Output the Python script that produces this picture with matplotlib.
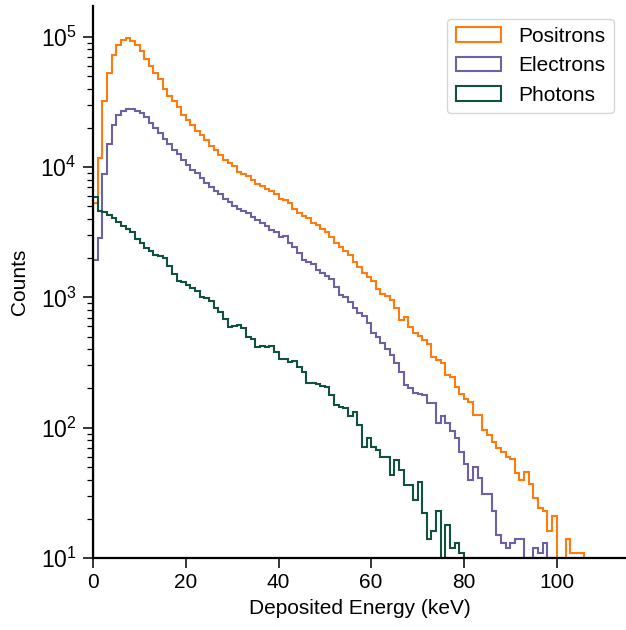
import numpy as np
import matplotlib
matplotlib.use("Agg")
import matplotlib.pyplot as plt

plt.rcParams['font.family'] = ['Liberation Sans', 'DejaVu Sans']
plt.rcParams['mathtext.fontset'] = 'custom'
plt.rcParams['mathtext.rm'] = 'Liberation Sans'
plt.rcParams['mathtext.it'] = 'Liberation Sans:italic'
plt.rcParams['font.size'] = 15

# 1 keV bins, counts per bin
edges = np.arange(0, 108)

positrons = [
    5300, 11700, 32000, 53000, 72000, 87000, 95000, 98000, 93000, 86000,
    78000, 68000, 60000, 53000, 47000, 40000, 35000, 32000, 29000, 25000,
    23000, 21000, 19000, 17600, 16000, 14400, 13400, 12400, 11300, 10800,
    10200, 9200, 8900, 8500, 7900, 7400, 7100, 6800, 6600, 6200,
    5700, 5600, 5300, 4800, 4470, 4200, 4050, 3740, 3600, 3350,
    3190, 2920, 2630, 2450, 2280, 2110, 1880, 1720, 1550, 1430,
    1340, 1150, 1070, 1020, 955, 825, 671, 711, 596, 536,
    506, 471, 439, 350, 331, 312, 254, 246, 206, 181,
    167, 158, 125, 125, 96, 88, 78, 70, 65, 60,
    58, 45, 40, 46, 37, 29, 24, 23, 16, 21,
    7, 8, 14, 11, 11, 11, 0,
]

electrons = [
    1940, 2840, 8900, 15000, 21000, 25000, 27000, 28000, 27800, 27000,
    26000, 24000, 21600, 20000, 18200, 16300, 15000, 13600, 12500, 11400,
    10400, 9500, 9000, 8300, 7500, 7000, 6500, 6200, 5700, 5400,
    5000, 4800, 4600, 4400, 4100, 3900, 3700, 3500, 3300, 3150,
    2900, 2950, 2630, 2450, 2200, 1940, 1880, 1800, 1620, 1550,
    1460, 1380, 1210, 1040, 1000, 927, 825, 763, 720, 632,
    536, 500, 449, 400, 361, 312, 269, 213, 200, 184,
    181, 178, 155, 155, 108, 122, 108, 95, 84, 65,
    53, 40, 50, 41, 31, 31, 23, 15, 13, 12,
    13, 14, 14, 4, 6, 12, 11, 13, 5, 3,
    0, 0, 0, 0, 0, 0, 0,
]

photons = [
    5900, 4600, 4500, 4300, 4050, 3800, 3500, 3350, 3200, 2800,
    2600, 2400, 2260, 2100, 2090, 2000, 1750, 1500, 1340, 1300,
    1240, 1170, 1120, 1010, 985, 944, 825, 777, 680, 588,
    600, 616, 580, 500, 478, 418, 425, 418, 420, 380,
    339, 335, 321, 326, 294, 269, 221, 221, 215, 210,
    206, 178, 149, 145, 141, 122, 133, 105, 71, 83,
    71, 68, 60, 60, 43, 56, 47, 36, 36, 28,
    38, 22, 14, 16, 23, 3, 18, 12, 13, 11,
    0, 0, 0, 0, 0, 0, 0, 0, 0, 0,
    0, 0, 0, 0, 0, 0, 0, 0, 0, 0,
    0, 0, 0, 0, 0, 0, 0,
]

labels = ["Positrons", "Electrons", "Photons"]
colors = ["#ff7b0f", "#6b62a3", "#11513f"]

fig = plt.figure(figsize=(6.26, 6.30), dpi=100)
ax = fig.add_axes([93.2 / 626, 1 - 558 / 630, 1 - 93.2 / 626, (558 - 6) / 630])

centers = edges[:-1] + 0.5
for counts, lab, col in zip([positrons, electrons, photons], labels, colors):
    ax.hist(centers, bins=edges, weights=counts, histtype='step',
            log=True, color=col, linewidth=1.5, label=lab)

ax.set_xlim(0, 115)
ax.set_ylim(10, 1.72e5)
ax.set_xlabel("Deposited Energy (keV)", labelpad=5)
ax.set_ylabel("Counts", labelpad=8)

ax.spines['top'].set_visible(False)
ax.spines['right'].set_visible(False)
for side in ['left', 'bottom']:
    ax.spines[side].set_linewidth(1.6)
    ax.spines[side].set_zorder(5)
ax.tick_params(which='major', length=7, width=1.1, pad=4)
ax.tick_params(which='minor', length=4, width=0.9)
ax.tick_params(axis='y', which='major', labelsize=16.5, pad=5)

ax.legend(loc='upper right', fontsize=15, handlelength=2.2,
          borderaxespad=0.6)

fig.savefig("out.png", dpi=100)
